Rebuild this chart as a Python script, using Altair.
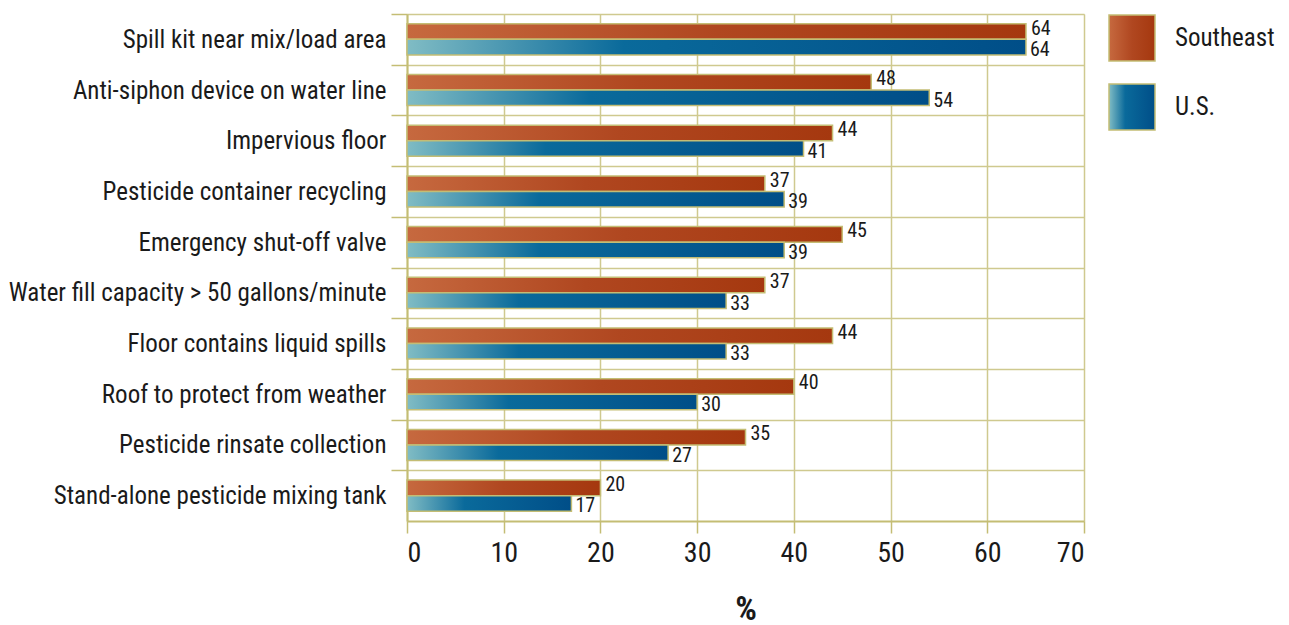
import altair as alt
import pandas as pd

categories = [
    "Spill kit near mix/load area",
    "Anti-siphon device on water line",
    "Impervious floor",
    "Pesticide container recycling",
    "Emergency shut-off valve",
    "Water fill capacity > 50 gallons/minute",
    "Floor contains liquid spills",
    "Roof to protect from weather",
    "Pesticide rinsate collection",
    "Stand-alone pesticide mixing tank",
]
southeast = [64, 48, 44, 37, 45, 37, 44, 40, 35, 20]
us = [64, 54, 41, 39, 39, 33, 33, 30, 27, 17]
series_names = ["Southeast", "U.S."]
x_ticks = [0, 10, 20, 30, 40, 50, 60, 70]

FONT = "Liberation Sans Narrow, Roboto Condensed, DejaVu Sans Condensed, sans-serif"
OLIVE = "#c4bd74"
GRID = "#cfc98f"
PLOT_H = 507
BAND = PLOT_H / len(categories)

rows = []
for c, s, u in zip(categories, southeast, us):
    rows.append({"category": c, "series": series_names[0], "value": s})
    rows.append({"category": c, "series": series_names[1], "value": u})
df = pd.DataFrame(rows)

grad_se = ("{gradient:'linear',x1:0,x2:1,y1:0,y2:0,stops:["
           "{offset:0,color:'#c6693f'},{offset:0.5,color:'#b04720'},"
           "{offset:1,color:'#a5380f'}]}")
grad_us = ("{gradient:'linear',x1:0,x2:1,y1:0,y2:0,stops:["
           "{offset:0,color:'#80bcc4'},{offset:0.35,color:'#0a6a9b'},"
           "{offset:1,color:'#004e88'}]}")

y_enc = alt.Y("category:N", sort=categories, title=None,
              scale=alt.Scale(paddingInner=0, paddingOuter=0),
              axis=alt.Axis(tickOffset=-BAND / 2, labelOffset=BAND / 2,
                            grid=True, gridColor=GRID,
                            gridWidth=1.5, tickSize=16, tickColor=OLIVE,
                            tickWidth=1.5, domainColor=OLIVE, domainWidth=2,
                            labelFont=FONT, labelFontSize=25,
                            labelColor="#1a1a1a", labelPadding=5,
                            labelLimit=500))
x_enc = alt.X("value:Q", title="%",
              scale=alt.Scale(domain=[0, 70], nice=False),
              axis=alt.Axis(values=x_ticks, grid=True, gridColor=GRID,
                            gridWidth=1.5, tickSize=12, tickColor=OLIVE,
                            tickWidth=1.5, domainColor=OLIVE, domainWidth=2,
                            labelFont=FONT, labelFontSize=28,
                            labelColor="#1a1a1a", labelPadding=6,
                            titleFont=FONT, titleFontSize=34,
                            titleFontWeight="bold", titleColor="#1a1a1a",
                            titlePadding=25))
yoff_enc = alt.YOffset("series:N",
                       scale=alt.Scale(domain=series_names, paddingOuter=0.63,
                                       paddingInner=0))
color_enc = alt.Color(
    "series:N", title=None,
    scale=alt.Scale(domain=series_names,
                    range=[alt.ExprRef(expr=grad_se), alt.ExprRef(expr=grad_us)]),
    legend=alt.Legend(orient="right", offset=24, padding=0, symbolType="square",
                      symbolSize=2116, symbolStrokeColor=OLIVE,
                      symbolStrokeWidth=1.5, rowPadding=17, labelOffset=19,
                      labelFont=FONT, labelFontSize=25, labelColor="#1a1a1a",
                      labelLimit=300))

base = alt.Chart(df).encode(x=x_enc, y=y_enc, yOffset=yoff_enc)

bars = base.mark_bar(stroke=OLIVE, strokeWidth=1.5).encode(color=color_enc)
labels_se = base.transform_filter(alt.datum.series == series_names[0]).mark_text(
    align="left", baseline="middle", dx=5, dy=-3, font=FONT, fontSize=20,
    color="#1a1a1a").encode(text="value:Q")
labels_us = base.transform_filter(alt.datum.series == series_names[1]).mark_text(
    align="left", baseline="middle", dx=4, dy=3, font=FONT, fontSize=20,
    color="#1a1a1a").encode(text="value:Q")

chart = alt.layer(bars, labels_se, labels_us).properties(
    width=677, height=PLOT_H,
    padding={"left": 0, "top": 5, "right": 0, "bottom": 0}
).configure_view(strokeWidth=0).configure(background="white")

chart.save("out.html", embed_options={"renderer": "svg", "actions": False})
